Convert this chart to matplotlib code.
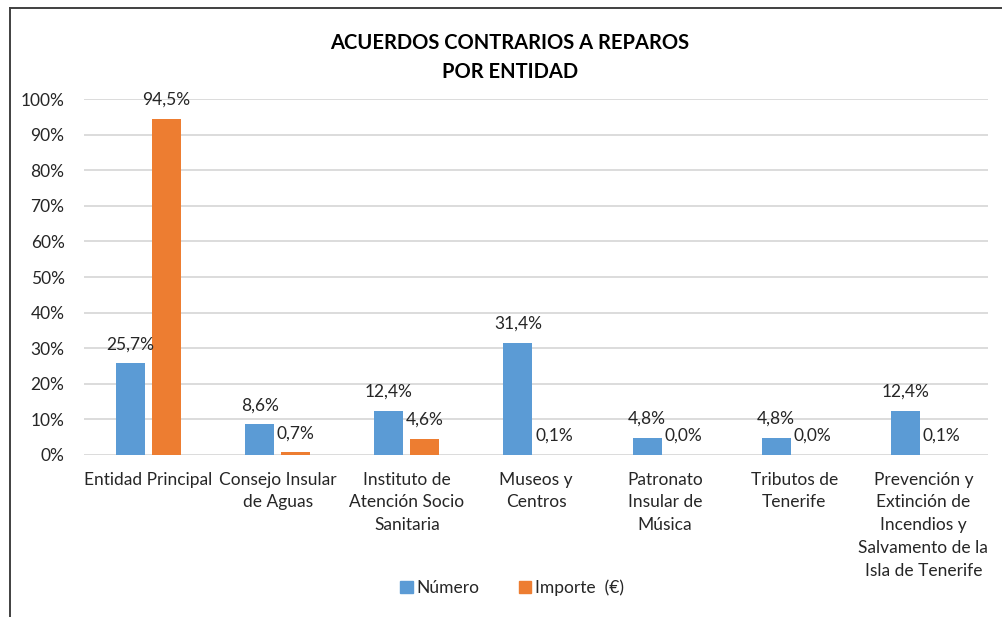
import numpy as np
import matplotlib
matplotlib.use("Agg")
import matplotlib.pyplot as plt
from matplotlib.lines import Line2D
from matplotlib.patches import Patch

plt.rcParams['font.family'] = ['Lato', 'DejaVu Sans']

# --- data ---
entidades = ["Entidad Principal", "Consejo Insular\nde Aguas",
             "Instituto de\nAtención Socio\nSanitaria", "Museos y\nCentros",
             "Patronato\nInsular de\nMúsica", "Tributos de\nTenerife",
             "Prevención y\nExtinción de\nIncendios y\nSalvamento de la\nIsla de Tenerife"]
numero = [25.7, 8.6, 12.4, 31.4, 4.8, 4.8, 12.4]
importe = [94.5, 0.7, 4.6, 0.1, 0.0, 0.0, 0.1]
yticks = [0, 10, 20, 30, 40, 50, 60, 70, 80, 90, 100]

BLUE = "#5B9BD5"
ORANGE = "#ED7D31"
TXT = "#262626"
FS = 12.5

fig = plt.figure(figsize=(10.02, 6.17), dpi=100)
ax = fig.add_axes([0.0838, 0.2626, 0.9022, 0.5769])

x = np.arange(len(entidades))
w = 0.225
b1 = ax.bar(x - 0.14, numero, w, color=BLUE, zorder=3)
b2 = ax.bar(x + 0.14, importe, w, color=ORANGE, zorder=3)

def lbl(v):
    return f"{v:.1f}".replace(".", ",") + "%"

for bars, vals in ((b1, numero), (b2, importe)):
    for r, v in zip(bars, vals):
        ax.annotate(lbl(v), (r.get_x() + r.get_width() / 2, v),
                    xytext=(0, 8), textcoords="offset points",
                    ha="center", va="bottom", fontsize=FS, color=TXT)

ax.set_xlim(-0.5, len(entidades) - 0.5)
ax.set_ylim(0, 100)
ax.set_yticks(yticks)
ax.set_yticklabels([f"{t}%" for t in yticks], fontsize=FS, color=TXT)
ax.set_xticks(x)
ax.set_xticklabels(entidades, fontsize=FS, color=TXT, linespacing=1.52, va="top")
ax.tick_params(length=0, pad=12)
ax.tick_params(axis="y", pad=14)
ax.grid(axis="y", color="#D9D9D9", lw=1.3, zorder=0)
for s in ax.spines.values():
    s.set_visible(False)

fig.text(0.509, 0.907, "ACUERDOS CONTRARIOS A REPAROS\nPOR ENTIDAD", ha="center",
         va="center", fontsize=14.5, fontweight="bold", color="black", linespacing=1.55)

handles = [Patch(color=BLUE), Patch(color=ORANGE)]
fig.legend(handles, ["Número", "Importe  (€)"], loc="center", bbox_to_anchor=(0.511, 0.048),
           ncol=2, frameon=False, fontsize=FS, handlelength=0.7, handleheight=0.7,
           handletextpad=0.2, columnspacing=2.3, labelcolor=TXT)

# chart frame (left and top edges visible in the reference)
fig.add_artist(Line2D([0.01, 0.01], [0.0, 0.987], color="#404040", lw=1.4))
fig.add_artist(Line2D([0.01, 1.0], [0.987, 0.987], color="#404040", lw=1.4))

fig.savefig("out.png", dpi=100)
